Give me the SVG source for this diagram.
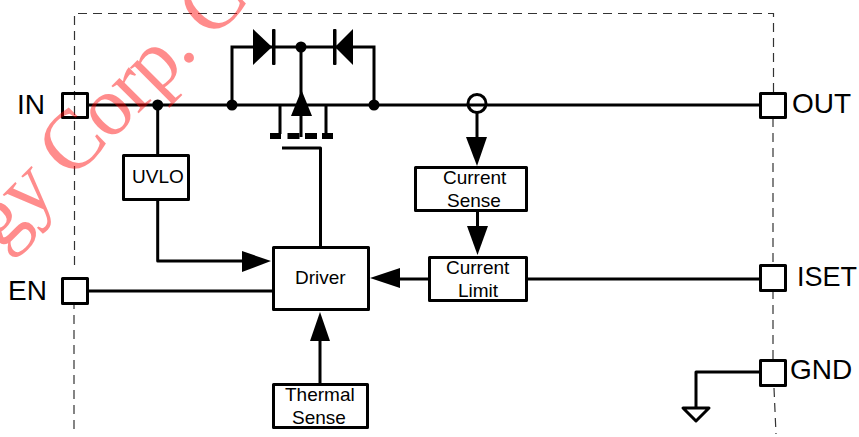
<svg xmlns="http://www.w3.org/2000/svg" width="859" height="437" viewBox="0 0 859 437">
<style>
.w{fill:none;stroke:#000;stroke-width:3}
.b{fill:#fff;stroke:#000;stroke-width:3;stroke-linejoin:round}
.h{fill:none;stroke:#000;stroke-width:3;stroke-linejoin:round}
.d{fill:none;stroke:#333;stroke-width:1.200;stroke-dasharray:9 6}
.k{fill:#000;stroke:none}
text{font-family:"Liberation Sans",Arial,sans-serif;fill:#000}
.s{font-size:19px}
.l{font-size:28px}
.wm{font-family:"Liberation Serif","Times New Roman",serif;font-size:84px;letter-spacing:-2px;fill:#f00;fill-opacity:.45}
</style>
<rect width="859" height="437" fill="#fff"/>
<g id="boundary">
<path class="d" d="M74.500 265V13.500H773.500V92"/>
<path class="d" d="M74 300V434"/>
<path class="d" d="M773 118V265"/>
<path class="d" d="M773 290V360"/>
<path class="d" d="M774 388L776 434"/>
</g>
<g id="connectors">
<path class="w" d="M88 105H760"/>
<path class="w" d="M232 105V47H374V105"/>
<path class="w" d="M301 47V137"/>
<path class="w" d="M280 105V134M326 105V134"/>
<path class="h" d="M282 148H320.500V246"/>
<path class="w" d="M157.700 105V155"/>
<path class="h" d="M157.700 200V261H244"/>
<path class="w" d="M88 291H273"/>
<path class="w" d="M477 113V140"/>
<path class="w" d="M477.500 212V228"/>
<path class="w" d="M429 279H398"/>
<path class="w" d="M527 279H760"/>
<path class="w" d="M320 384V339"/>
<path class="h" d="M760 372H696V407"/>
<polygon class="k" points="271,261 242,251 242,272"/>
<polygon class="k" points="301.500,90 291,116 312,116"/>
<polygon class="k" points="477,166 466,137 487,137"/>
<polygon class="k" points="477.500,255 467,226 488,226"/>
<polygon class="k" points="370,278 400,268 400,288"/>
<polygon class="k" points="320,312 310,341 330,341"/>
<polygon class="k" points="272,47 253,29 253,65"/>
<rect class="k" x="272" y="29" width="3.500" height="36" rx="1"/>
<polygon class="k" points="335,47 353,29 353,65"/>
<rect class="k" x="333" y="29" width="3.500" height="36" rx="1"/>
<circle class="k" cx="157.700" cy="105" r="5.500"/>
<circle class="k" cx="232" cy="105" r="5.500"/>
<circle class="k" cx="374" cy="105" r="5.500"/>
<circle class="k" cx="301" cy="47" r="5.500"/>
<circle class="w" cx="477" cy="103.500" r="9"/>
<rect class="k" x="270" y="133" width="11" height="6"/>
<rect class="k" x="287.500" y="133" width="12" height="6"/>
<rect class="k" x="305" y="133" width="12" height="6"/>
<rect class="k" x="322" y="133" width="11" height="6"/>
<polygon class="h" points="683,408 709,408 696,421"/>
</g>
<g id="pin-in"><rect class="h" x="62.500" y="93.500" width="25" height="24"/><text class="l" x="17" y="114">IN</text></g>
<g id="pin-en"><rect class="b" x="62.500" y="278.500" width="25" height="25"/><text class="l" x="8" y="300">EN</text></g>
<g id="pin-out"><rect class="b" x="760.500" y="93.500" width="25" height="24"/><text class="l" x="792" y="113">OUT</text></g>
<g id="pin-iset"><rect class="b" x="760.500" y="265.500" width="25" height="25"/><text class="l" x="797" y="286" style="font-size:27px">ISET</text></g>
<g id="pin-gnd"><rect class="b" x="760.500" y="360.500" width="25" height="25"/><text class="l" x="790" y="379">GND</text></g>
<g id="uvlo"><rect class="b" x="123.500" y="155.500" width="65" height="44"/><text class="s" x="132" y="183">UVLO</text></g>
<g id="driver"><rect class="b" x="273.500" y="247.500" width="95" height="62"/><text class="s" x="295" y="284">Driver</text></g>
<g id="current-sense"><rect class="b" x="415.500" y="167.500" width="111" height="43"/><text class="s" x="443" y="184">Current</text><text class="s" x="447" y="207">Sense</text></g>
<g id="current-limit"><rect class="b" x="429.500" y="257.500" width="97" height="43"/><text class="s" x="446" y="274">Current</text><text class="s" x="458" y="297">Limit</text></g>
<g id="thermal-sense"><rect class="b" x="273.500" y="384.500" width="94" height="43"/><text class="s" x="285" y="401">Thermal</text><text class="s" x="292" y="424">Sense</text></g>
<text id="watermark" class="wm" transform="translate(1,251) rotate(-45)">gy Corp. C</text>
</svg>
